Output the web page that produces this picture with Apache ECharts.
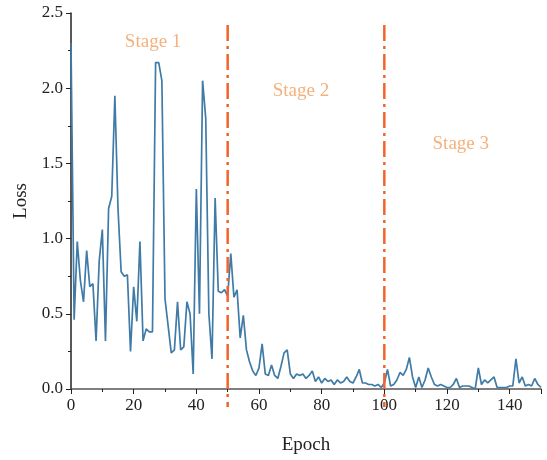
<!DOCTYPE html>
<html>
<head>
<meta charset="utf-8">
<script src="https://cdn.jsdelivr.net/npm/echarts@6/dist/echarts.min.js"></script>
<style>
  html, body { margin: 0; padding: 0; background: #fff; }
  #main { width: 547px; height: 460px; }
</style>
</head>
<body>
<div id="main"></div>
<script>
// loss per epoch
let loss = [
  2.30, 0.46, 0.98, 0.72, 0.58, 0.92, 0.68, 0.70, 0.32, 0.85,
  1.06, 0.32, 1.20, 1.28, 1.95, 1.20, 0.78, 0.75, 0.76, 0.25,
  0.68, 0.45, 0.98, 0.32, 0.40, 0.38, 0.38, 2.17, 2.17, 2.05,
  0.60, 0.42, 0.24, 0.26, 0.58, 0.26, 0.28, 0.58, 0.50, 0.10,
  1.33, 0.50, 2.05, 1.80, 0.50, 0.20, 1.27, 0.65, 0.64, 0.66,
  0.62, 0.90, 0.61, 0.66, 0.34, 0.49, 0.26, 0.18, 0.12, 0.09,
  0.14, 0.30, 0.10, 0.09, 0.16, 0.09, 0.07, 0.15, 0.24, 0.26,
  0.10, 0.07, 0.10, 0.09, 0.10, 0.07, 0.09, 0.12, 0.05, 0.08,
  0.04, 0.07, 0.05, 0.06, 0.03, 0.06, 0.04, 0.05, 0.08, 0.05,
  0.04, 0.08, 0.13, 0.04, 0.04, 0.03, 0.03, 0.02, 0.03, 0.01,
  0.04, 0.13, 0.02, 0.03, 0.06, 0.11, 0.09, 0.13, 0.21, 0.08,
  0.01, 0.08, 0.01, 0.06, 0.14, 0.08, 0.03, 0.02, 0.03, 0.02,
  0.01, 0.01, 0.03, 0.07, 0.01, 0.02, 0.02, 0.02, 0.01, 0.00,
  0.14, 0.03, 0.06, 0.04, 0.06, 0.08, 0.01, 0.01, 0.01, 0.01,
  0.02, 0.02, 0.20, 0.04, 0.08, 0.02, 0.03, 0.02, 0.07, 0.03,
  0.01
];
let stageBounds = [50, 100];
let stageNames = ['Stage 1', 'Stage 2', 'Stage 3'];
let stageLabelPos = [[26.2, 2.31], [73.4, 1.98], [124.4, 1.63]];

let font = 'Liberation Serif';
let lossData = loss.map((v, i) => [i, v]);

let series = [
  {
    type: 'line',
    data: lossData,
    showSymbol: false,
    lineStyle: { color: '#3f7ba6', width: 1.7 },
    z: 2
  }
];
stageBounds.forEach(function (b) {
  series.push({
    type: 'line',
    data: [[b, 2.42], [b, -0.12]],
    showSymbol: false,
    clip: false,
    silent: true,
    lineStyle: { color: '#f2642a', width: 2.5, type: [16, 5, 3, 5] },
    z: 3
  });
});
series.push({
  type: 'scatter',
  data: stageLabelPos.map((p, i) => ({ value: p, name: stageNames[i] })),
  symbolSize: 0,
  label: {
    show: true,
    position: 'inside',
    formatter: '{b}',
    color: '#f39c5a',
    fontFamily: font,
    fontSize: 19
  }
});

let chart = echarts.init(document.getElementById('main'), null, { renderer: 'canvas' });
chart.setOption({
  animation: false,
  grid: { left: 71, right: 6, top: 13, bottom: 68 },
  xAxis: {
    type: 'value',
    min: 0,
    max: 150,
    interval: 20,
    name: 'Epoch',
    nameLocation: 'middle',
    nameGap: 47,
    nameTextStyle: { fontFamily: font, fontSize: 19, color: '#222' },
    axisLine: { lineStyle: { color: '#555', width: 1.5 } },
    axisTick: { inside: false, length: 5, lineStyle: { color: '#222' } },
    minorTick: { show: true, splitNumber: 2, length: 3, lineStyle: { color: '#222' } },
    axisLabel: { fontFamily: font, fontSize: 17, color: '#222', margin: 8, showMaxLabel: false },
    splitLine: { show: false }
  },
  yAxis: {
    type: 'value',
    min: 0,
    max: 2.5,
    interval: 0.5,
    name: 'Loss',
    nameLocation: 'middle',
    nameGap: 39,
    nameTextStyle: { fontFamily: font, fontSize: 19, color: '#222' },
    axisLine: { show: true, lineStyle: { color: '#222', width: 1.5 } },
    axisTick: { show: true, inside: false, length: 5, lineStyle: { color: '#222' } },
    minorTick: { show: true, splitNumber: 2, length: 3, lineStyle: { color: '#222' } },
    axisLabel: { fontFamily: font, fontSize: 17, color: '#222', margin: 8, formatter: v => v.toFixed(1) },
    splitLine: { show: false }
  },
  series: series
});
</script>
</body>
</html>
